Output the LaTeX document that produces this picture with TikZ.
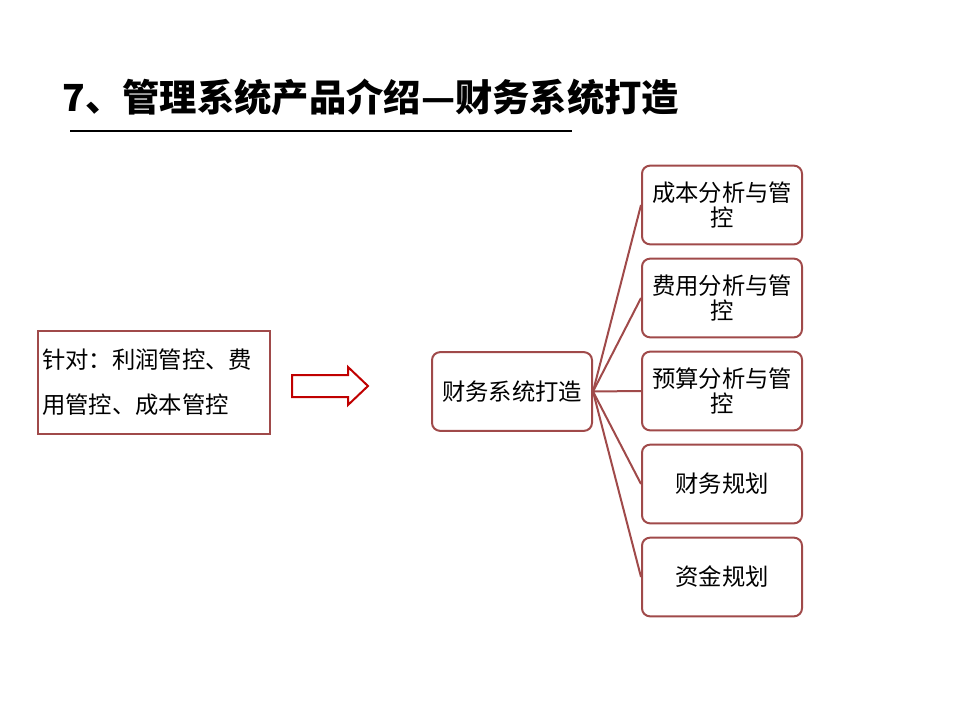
\documentclass[tikz,border=0pt]{standalone}
\usepackage{fontspec}
\newfontfamily\cjk{Noto Sans CJK SC}
\begin{document}
\begin{tikzpicture}[x=0.75pt,y=-0.75pt,
  rbox/.style={draw=boxred,line width=1.5pt,rounded corners=6pt,minimum width=120pt,minimum height=59pt,align=center,text width=112pt,font=\cjk\fontsize{17.5}{19}\selectfont,inner sep=1pt},
  link/.style={draw=boxred,line width=1.5pt}]
\definecolor{boxred}{HTML}{A04A4A}
\definecolor{arrred}{HTML}{C00000}
\useasboundingbox (0,0) rectangle (960,720);
\node[anchor=west,font=\cjk\bfseries\fontsize{28}{32}\selectfont,inner sep=0] (title) at (62,97) {7、管理系统产品介绍—财务系统打造};
\coordinate (u1) at (70,131); \coordinate (u2) at (572,131);
\draw[line width=2.2pt] (u1) -- (u2);
\node[draw=boxred,line width=1.5pt,minimum width=174pt,minimum height=77pt,text width=168pt,align=left,inner sep=3pt,font=\cjk\fontsize{17.5}{34}\selectfont] (left) at (154,382.5) {针对：利润管控、费\\用管控、成本管控};
\draw[draw=arrred,line width=1.5pt,fill=white] (292,375) -- (348,375) -- (348,367) -- (368,386) -- (348,405) -- (348,397) -- (292,397) -- cycle;
\node[rbox] (c) at (512,391.5) {财务系统打造};
\node[rbox] (r1) at (722,205) {成本分析与管\\控};
\node[rbox] (r2) at (722,298) {费用分析与管\\控};
\node[rbox] (r3) at (722,391) {预算分析与管\\控};
\node[rbox] (r4) at (722,484) {财务规划};
\node[rbox] (r5) at (722,577) {资金规划};
\foreach \r in {r1,r2,r3,r4,r5} \draw[link] (c.east) -- (\r.west);
\end{tikzpicture}
\end{document}
